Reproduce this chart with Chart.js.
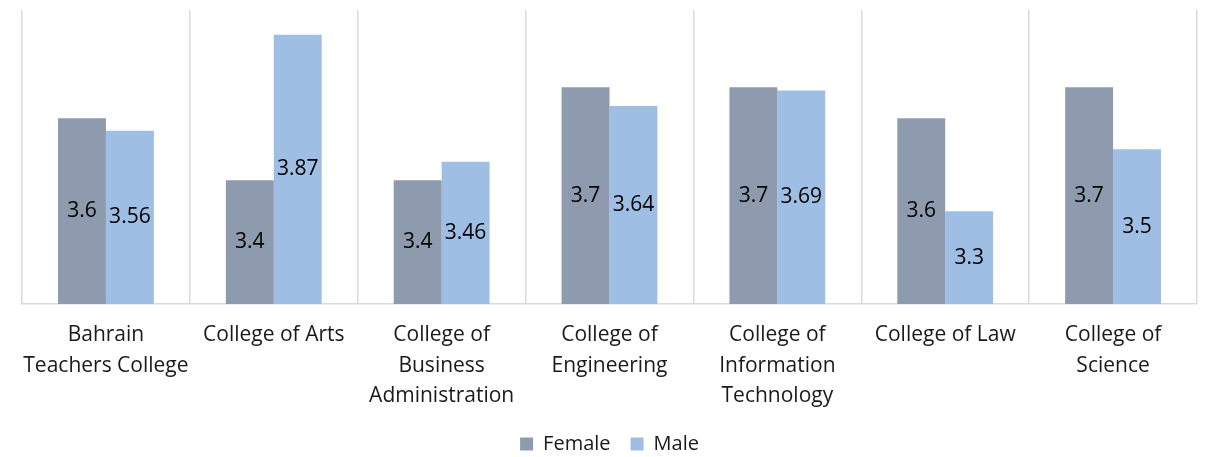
<!DOCTYPE html>
<html>
<head>
<meta charset="utf-8">
<script src="https://cdn.jsdelivr.net/npm/chart.js@4"></script>
<style>
  html, body { margin: 0; padding: 0; background: #fff; }
  #wrap { width: 1210px; height: 457px; }
</style>
</head>
<body>
<div id="wrap"><canvas id="collegeChart" width="1210" height="457"></canvas></div>
<script>
// categories (multi-line labels as in the original)
const colleges = [
    ['Bahrain', 'Teachers College'],
    ['College of Arts'],
    ['College of', 'Business', 'Administration'],
    ['College of', 'Engineering'],
    ['College of', 'Information', 'Technology'],
    ['College of Law'],
    ['College of', 'Science']
];
const femaleScores = [3.6, 3.4, 3.4, 3.7, 3.7, 3.6, 3.7];
const maleScores = [3.56, 3.87, 3.46, 3.64, 3.69, 3.3, 3.5];

const textColor = '#1a1a1a';
const fontFamily = '"Open Sans", sans-serif';

// draw the value in the middle of each visible bar
const barValueLabels = {
    id: 'barValueLabels',
    afterDatasetsDraw(chart) {
        const c = chart.ctx;
        const bottom = chart.chartArea.bottom;
        c.save();
        c.font = '21px ' + fontFamily;
        c.fillStyle = '#000000';
        c.textAlign = 'center';
        c.textBaseline = 'middle';
        chart.data.datasets.forEach((ds, i) => {
            chart.getDatasetMeta(i).data.forEach((bar, j) => {
                const p = bar.getProps(['x', 'y', 'base'], true);
                const base = Math.min(p.base, bottom);
                c.fillText(String(ds.data[j]), p.x, (p.y + base) / 2);
            });
        });
        c.restore();
    }
};

const chartCtx = document.getElementById('collegeChart').getContext('2d');
new Chart(chartCtx, {
    type: 'bar',
    data: {
        labels: colleges,
        datasets: [{
            label: 'Female',
            data: femaleScores,
            backgroundColor: '#8e9aae'
        }, {
            label: 'Male',
            data: maleScores,
            backgroundColor: '#9ebfe3'
        }]
    },
    options: {
        responsive: false,
        animation: false,
        layout: { padding: { left: 22, right: 13, top: 10, bottom: -7 } },
        datasets: {
            bar: { categoryPercentage: 0.571, barPercentage: 1.0 }
        },
        scales: {
            x: {
                grid: { color: '#d9d9d9', lineWidth: 1.5, offset: true, drawTicks: false },
                border: { color: '#d9d9d9', width: 1.5 },
                ticks: {
                    color: textColor,
                    font: { family: fontFamily, size: 21, lineHeight: 1.45 },
                    maxRotation: 0,
                    autoSkip: false,
                    padding: 16
                },
                afterFit(scale) { scale.height = 110; }
            },
            y: { display: false, min: 3, max: 3.95 }
        },
        plugins: {
            legend: {
                position: 'bottom',
                labels: {
                    color: textColor,
                    font: { family: fontFamily, size: 20 },
                    boxWidth: 13,
                    boxHeight: 13,
                    padding: 20
                }
            },
            tooltip: { enabled: false }
        }
    },
    plugins: [barValueLabels]
});
</script>
</body>
</html>
